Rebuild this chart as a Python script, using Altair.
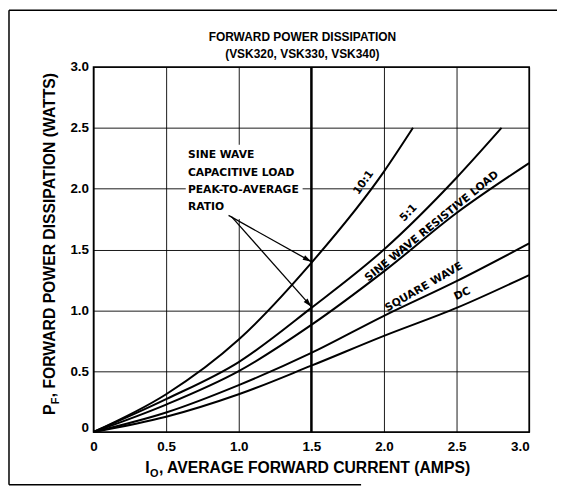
import math
import altair as alt
import pandas as pd

# ---------------- data ----------------
TICKS = [0, 0.5, 1.0, 1.5, 2.0, 2.5, 3.0]

X_STEPS = [0, 0.5, 1.0, 1.5, 2.0, 2.5, 3.0]
R10_X = [0, 0.5, 1.0, 1.5, 2.0, 2.2]
R10_Y = [0, 0.31, 0.76, 1.39, 2.14, 2.5]
R5_X = [0, 0.5, 1.0, 1.5, 2.0, 2.5, 2.81]
R5_Y = [0, 0.27, 0.575, 1.02, 1.5, 2.09, 2.5]
SINE_RES_Y = [0, 0.225, 0.5, 0.88, 1.32, 1.80, 2.21]
SQUARE_Y = [0, 0.16, 0.385, 0.65, 0.955, 1.24, 1.55]
DC_Y = [0, 0.125, 0.31, 0.545, 0.79, 1.02, 1.29]

CURVE_LABELS = ["10:1", "5:1", "SINE WAVE RESISTIVE LOAD", "SQUARE WAVE", "DC"]
LABEL_X = [1.86, 2.17, 2.33, 2.275, 2.54]
LABEL_Y = [2.05, 1.80, 1.69, 1.19, 1.135]
LABEL_ANGLE = [305, 314, 321, 330, 335]

NOTE_LINES = ["SINE WAVE", "CAPACITIVE LOAD", "PEAK-TO-AVERAGE", "RATIO"]
NOTE_X = [0.65, 0.65, 0.65, 0.65]
NOTE_Y = [2.28, 2.13, 1.99, 1.85]
NOTE_BOX = [0.635, 1.44, 1.75, 2.36]  # x, x2, y, y2 of the white backing

ARROW_SX = [0.93, 0.95]
ARROW_SY = [1.78, 1.77]
ARROW_TX = [1.5, 1.5]
ARROW_TY = [1.40, 1.03]

TITLE_1 = "FORWARD POWER DISSIPATION"
TITLE_2 = "(VSK320, VSK330, VSK340)"

# ---------------- layout ----------------
W, H = 438, 367
PX_X = W / 3.0
PX_Y = H / 3.0
AXFONT = "Liberation Sans"
INFONT = "DejaVu Sans"

rows = []
for name, xs, ys in [
    ("10:1", R10_X, R10_Y),
    ("5:1", R5_X, R5_Y),
    ("sine", X_STEPS, SINE_RES_Y),
    ("square", X_STEPS, SQUARE_Y),
    ("dc", X_STEPS, DC_Y),
]:
    for i, (a, b) in enumerate(zip(xs, ys)):
        rows.append({"series": name, "i": i, "x": a, "y": b})
curves_df = pd.DataFrame(rows)

xscale = alt.Scale(domain=[0, 3], nice=False, zero=False)
yscale = alt.Scale(domain=[0, 3], nice=False, zero=False)

x_axis = alt.Axis(
    values=TICKS, grid=True, gridColor="black", gridWidth=0.9, ticks=False,
    domain=False, title=None, labelFont=AXFONT, labelFontWeight="bold",
    labelFontSize=13.5, labelColor="black", labelPadding=8,
    labelExpr="datum.value == 0 ? '0' : format(datum.value, '.1f')",
    labelAlign={"condition": {"test": "datum.value >= 3", "value": "right"}, "value": "center"},
)
y_axis = alt.Axis(
    values=TICKS, grid=True, gridColor="black", gridWidth=0.9, ticks=False,
    domain=False, title=None, labelFont=AXFONT, labelFontWeight="bold",
    labelFontSize=13.5, labelColor="black", labelPadding=5,
    labelExpr="datum.value == 0 ? '0' : format(datum.value, '.1f')",
    labelBaseline={"condition": {"test": "datum.value == 0", "value": "alphabetic"}, "value": "middle"},
)

curves = alt.Chart(curves_df).mark_line(
    color="black", strokeWidth=2, interpolate="monotone"
).encode(
    x=alt.X("x:Q", scale=xscale, axis=x_axis),
    y=alt.Y("y:Q", scale=yscale, axis=y_axis),
    detail="series:N",
    order="i:Q",
)

note_box = alt.Chart(pd.DataFrame({
    "x": [NOTE_BOX[0]], "x2": [NOTE_BOX[1]], "y": [NOTE_BOX[2]], "y2": [NOTE_BOX[3]]
})).mark_rect(color="white").encode(x="x:Q", x2="x2:Q", y="y:Q", y2="y2:Q")

thick = alt.Chart(pd.DataFrame({"x": [1.5]})).mark_rule(
    color="black", strokeWidth=2.4
).encode(x="x:Q")

labels_df = pd.DataFrame({"t": CURVE_LABELS, "x": LABEL_X, "y": LABEL_Y, "a": LABEL_ANGLE})
curve_labels = alt.Chart(labels_df).mark_text(
    font=INFONT, fontWeight="bold", fontSize=10.8, color="black", align="center", baseline="middle"
).encode(x="x:Q", y="y:Q", text="t:N", angle=alt.Angle("a:Q", scale=None))

notes_df = pd.DataFrame({"t": NOTE_LINES, "x": NOTE_X, "y": NOTE_Y})
notes = alt.Chart(notes_df).mark_text(
    font=INFONT, fontWeight="bold", fontSize=10.8, color="black", align="left", baseline="middle"
).encode(x="x:Q", y="y:Q", text="t:N")

arrows_df = pd.DataFrame({"x": ARROW_SX, "y": ARROW_SY, "x2": ARROW_TX, "y2": ARROW_TY})
arrow_lines = alt.Chart(arrows_df).mark_rule(color="black", strokeWidth=1.3).encode(
    x="x:Q", y="y:Q", x2="x2:Q", y2="y2:Q"
)
heads_angle = []
for sx, sy, tx, ty in zip(ARROW_SX, ARROW_SY, ARROW_TX, ARROW_TY):
    dx = (tx - sx) * PX_X
    dy = -(ty - sy) * PX_Y
    heads_angle.append((math.degrees(math.atan2(dy, dx)) + 90) % 360)
heads_df = pd.DataFrame({"x": ARROW_TX, "y": ARROW_TY, "a": heads_angle})
heads = alt.Chart(heads_df).mark_point(
    shape="M0,0 L0.3,1 L-0.3,1 Z", filled=True, color="black", size=300, opacity=1
).encode(x="x:Q", y="y:Q", angle=alt.Angle("a:Q", scale=None))

one = pd.DataFrame({"k": [0]})


def ptext(txt, x, y, size, angle=0, align="left", baseline="alphabetic"):
    return alt.Chart(one).mark_text(
        text=txt, font=AXFONT, fontWeight="bold", fontSize=size, color="black",
        align=align, baseline=baseline, angle=angle
    ).encode(x=alt.value(x), y=alt.value(y))


TS = 15.8
titles = [
    ptext(TITLE_1, 210, -30, 12, align="center", baseline="middle"),
    ptext(TITLE_2, 210, -13, 12, align="center", baseline="middle"),
    # x axis title with subscript O
    ptext("I", 52, 408.5, TS),
    ptext("O", 56.9, 412.5, 11),
    ptext(", AVERAGE FORWARD CURRENT (AMPS)", 65.8, 408.5, TS),
    # y axis title with subscript F
    ptext("P", -38.5, 350, TS, angle=270),
    ptext("F", -35, 339.1, 11, angle=270),
    ptext(", FORWARD POWER DISSIPATION (WATTS)", -38.5, 332.1, TS, angle=270),
]

frame = [
    alt.Chart(one).mark_rule(color="black", strokeWidth=1.5).encode(
        x=alt.value(-85), y=alt.value(-57), y2=alt.value(420)),
    alt.Chart(one).mark_rule(color="black", strokeWidth=1.5).encode(
        x=alt.value(-85), x2=alt.value(466), y=alt.value(-57)),
    alt.Chart(one).mark_rule(color="black", strokeWidth=1.5).encode(
        x=alt.value(-85), x2=alt.value(269), y=alt.value(420)),
]

chart = alt.layer(
    curves, note_box, thick, curve_labels, notes, arrow_lines, heads, *titles, *frame
).properties(
    width=W, height=H,
    autosize=alt.AutoSizeParams(type="none"),
    padding={"left": 86, "top": 58, "right": 28, "bottom": 55},
    background="white",
).configure_view(stroke="black", strokeWidth=1.6)

chart.save("out.html", embed_options={"renderer": "svg", "actions": False})
